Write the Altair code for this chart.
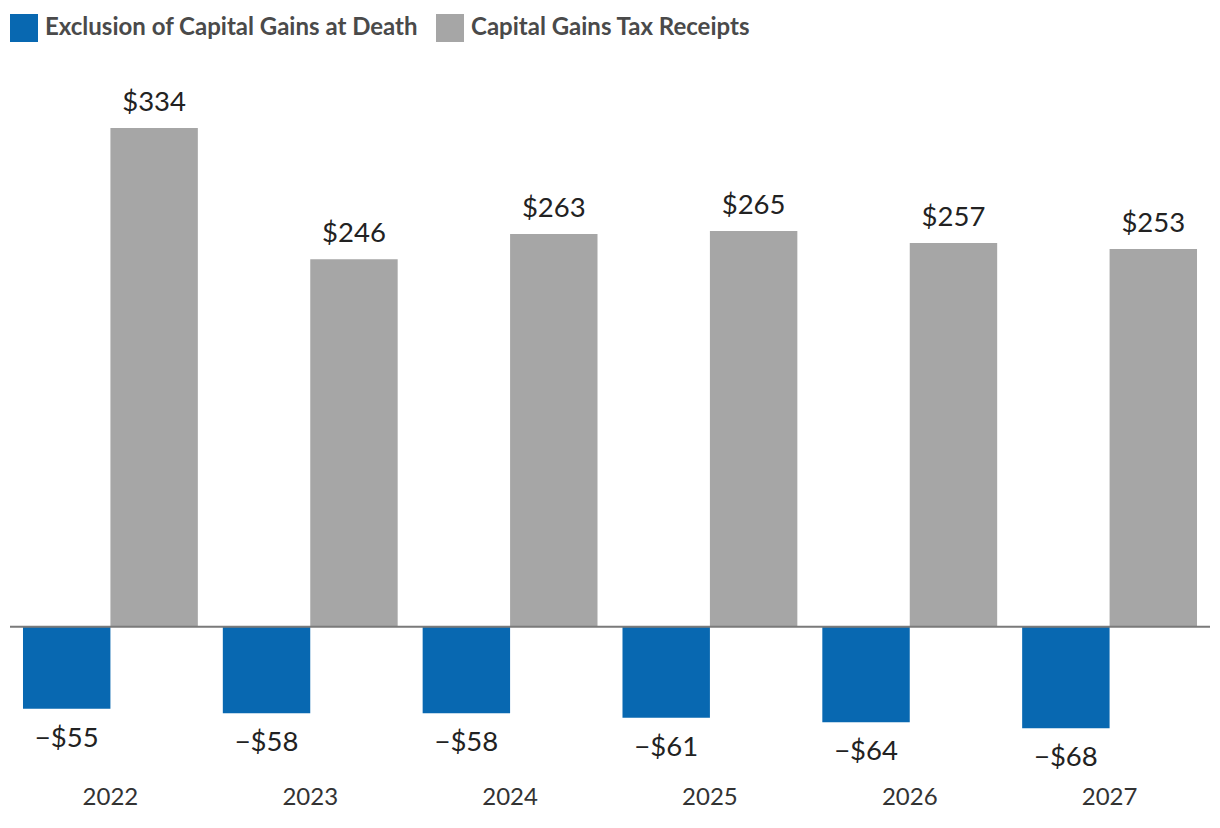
import altair as alt
import pandas as pd

years = ["2022", "2023", "2024", "2025", "2026", "2027"]
exclusion = [-55, -58, -58, -61, -64, -68]
receipts = [334, 246, 263, 265, 257, 253]
series_names = ["Exclusion of Capital Gains at Death", "Capital Gains Tax Receipts"]
series_colors = ["#0868b1", "#a6a6a6"]

rows = []
for i, y in enumerate(years):
    rows.append({"year": y, "series": series_names[0], "value": exclusion[i]})
    rows.append({"year": y, "series": series_names[1], "value": receipts[i]})
df = pd.DataFrame(rows)

FONT = "Lato"

x = alt.X("year:N", title=None, sort=years,
          scale=alt.Scale(paddingInner=0.125, paddingOuter=0.065),
          axis=alt.Axis(orient="bottom", domain=False, ticks=False, labelAngle=0,
                        labelFont=FONT, labelFontSize=24, labelColor="#333333",
                        labelPadding=15))
xo = alt.XOffset("series:N", sort=series_names, scale=alt.Scale(paddingInner=0, paddingOuter=0))
yscale = alt.Scale(domain=[-96, 379.5], nice=False, zero=True)

base = alt.Chart(df)

bars = base.mark_bar().encode(
    x=x, xOffset=xo,
    y=alt.Y("value:Q", scale=yscale, axis=None),
    color=alt.Color("series:N", sort=series_names,
                    scale=alt.Scale(domain=series_names, range=series_colors),
                    legend=alt.Legend(title=None, orient="none", direction="horizontal",
                                      legendX=0, legendY=-46, padding=0,
                                      symbolType="square",
                                      symbolSize=784, symbolStrokeWidth=0,
                                      labelFont=FONT, labelFontSize=24, labelLimit=0,
                                      labelFontWeight="bold", labelColor="#4a4a4a",
                                      labelOffset=7, columnPadding=18)),
)

lab = base.transform_calculate(
    label="(datum.value < 0 ? '\u2212$' : '$') + abs(datum.value)",
)

pos_labels = lab.transform_filter("datum.value >= 0").mark_text(
    font=FONT, fontSize=27.5, color="#222222", baseline="middle", dy=-25).encode(
    x=x, xOffset=xo,
    y=alt.Y("value:Q", scale=yscale, axis=None),
    text="label:N",
)
neg_labels = lab.transform_filter("datum.value < 0").mark_text(
    font=FONT, fontSize=27.5, color="#222222", baseline="middle", dy=30).encode(
    x=x, xOffset=xo,
    y=alt.Y("value:Q", scale=yscale, axis=None),
    text="label:N",
)

zero = alt.Chart(pd.DataFrame({"z": [0]})).mark_rule(color="#7a7a7a", strokeWidth=2).encode(
    y=alt.Y("z:Q", scale=yscale, axis=None),
)

chart = alt.layer(bars, zero, pos_labels, neg_labels).properties(
    width=1200, height=710,
    autosize=alt.AutoSizeParams(type="none"),
    padding={"left": 2, "top": 52, "right": 0, "bottom": 48},
).configure_view(stroke=None)

chart.save("out.html", embed_options={"renderer": "svg", "actions": False})
